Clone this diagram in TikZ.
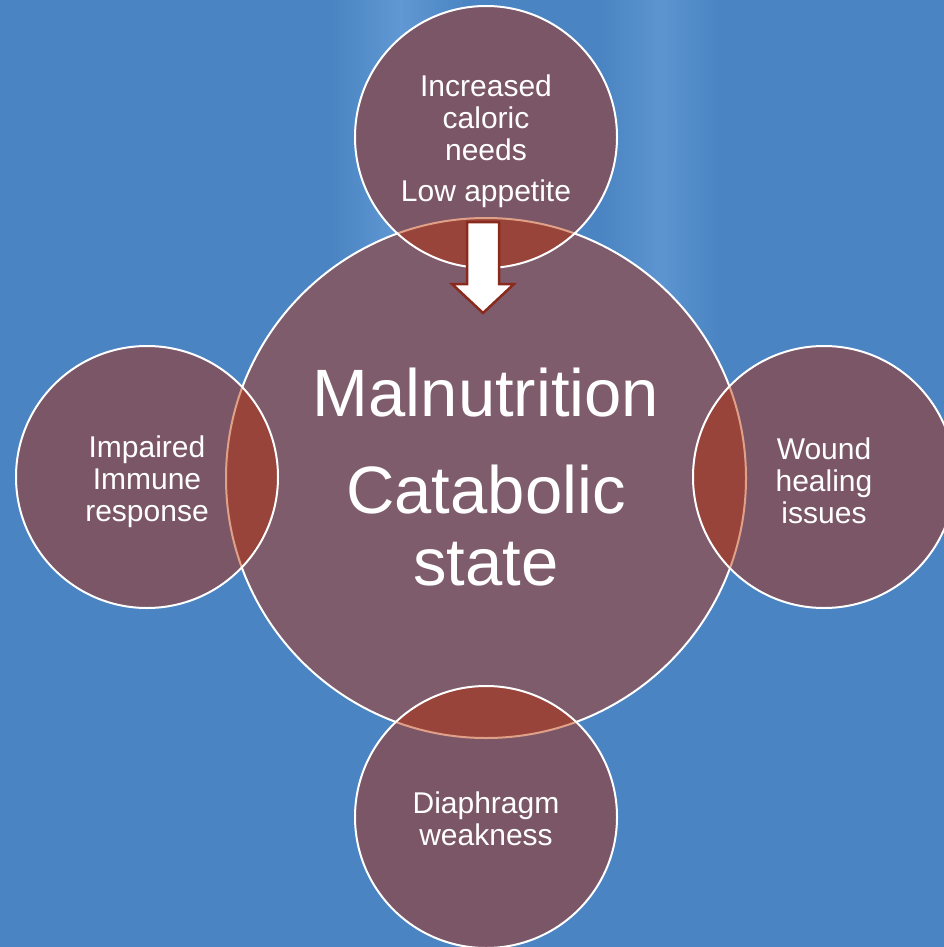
\documentclass[tikz,border=0pt]{standalone}
\usepackage{fontspec}
\setmainfont{Liberation Sans}
\definecolor{bgblue}{HTML}{4A84C2}
\definecolor{bglight}{HTML}{6EA6DE}
\definecolor{circfill}{HTML}{7B5666}
\definecolor{mainfill}{HTML}{7F5C6C}
\definecolor{lensfill}{HTML}{98443A}
\definecolor{lensedge}{HTML}{E0A088}
\definecolor{arrowedge}{HTML}{8A2A1C}
\begin{document}
\begin{tikzpicture}[x=1pt,y=-1pt,
  bigcirc/.style={circle,inner sep=0pt,outer sep=0pt,minimum size=520pt,fill=mainfill},
  smallcirc/.style={circle,inner sep=0pt,outer sep=0pt,minimum size=262pt,fill=circfill},
  smalltext/.style={text=white,align=center,font=\fontsize{30}{32}\selectfont},
  bigtext/.style={text=white,align=center,font=\fontsize{67}{72}\selectfont},
  rim/.style={draw=white,line width=2pt}]
\fill[bgblue] (0,0) rectangle (944,947);
\useasboundingbox (0,0) rectangle (944,947);
\clip (0,0) rectangle (944,947);
% soft lighter bands of the background
\shade[left color=bgblue,right color=bglight,opacity=0.6] (330,0) rectangle (400,300);
\shade[left color=bglight,right color=bgblue,opacity=0.6] (400,0) rectangle (470,300);
\shade[left color=bgblue,right color=bglight,opacity=0.5] (600,0) rectangle (660,350);
\shade[left color=bglight,right color=bgblue,opacity=0.5] (660,0) rectangle (720,350);
% main circle
\node[bigcirc,rim] (main) at (486,478) {};
% small circles
\node[smallcirc] (top) at (486,137) {};
\node[smallcirc] (left) at (147,477) {};
\node[smallcirc] (right) at (824,477) {};
\node[smallcirc] (bottom) at (486,817) {};
% overlaps
\foreach \c in {top,left,right,bottom}{
  \begin{scope}
    \clip (main.center) circle (260pt);
    \fill[lensfill] (\c.center) circle (131pt);
  \end{scope}
  \begin{scope}
    \clip (\c.center) circle (131pt);
    \draw[lensedge,line width=2pt] (main.center) circle (260pt);
  \end{scope}
  \draw[white,line width=2pt] (\c.center) circle (131pt);
}
% arrow
\draw[fill=white,draw=arrowedge,line width=2.5pt,line join=miter]
  (467,222) -- (499,222) -- (499,284) -- (514,284) -- (483,313) -- (452,284) -- (467,284) -- cycle;
% texts
\node[smalltext] (t1) at (486,118) {Increased\\caloric\\needs};
\node[smalltext] (t2) at (486,194) {Low appetite};
\node[smalltext] (tl) at (147,482) {Impaired\\Immune\\response};
\node[smalltext] (tr) at (824,481) {Wound\\healing\\issues};
\node[smalltext] (tb) at (486,819) {Diaphragm\\weakness};
\node[bigtext] (m1) at (486,393) {Malnutrition};
\node[bigtext] (m2) at (486,526) {Catabolic\\state};
\end{tikzpicture}
\end{document}
